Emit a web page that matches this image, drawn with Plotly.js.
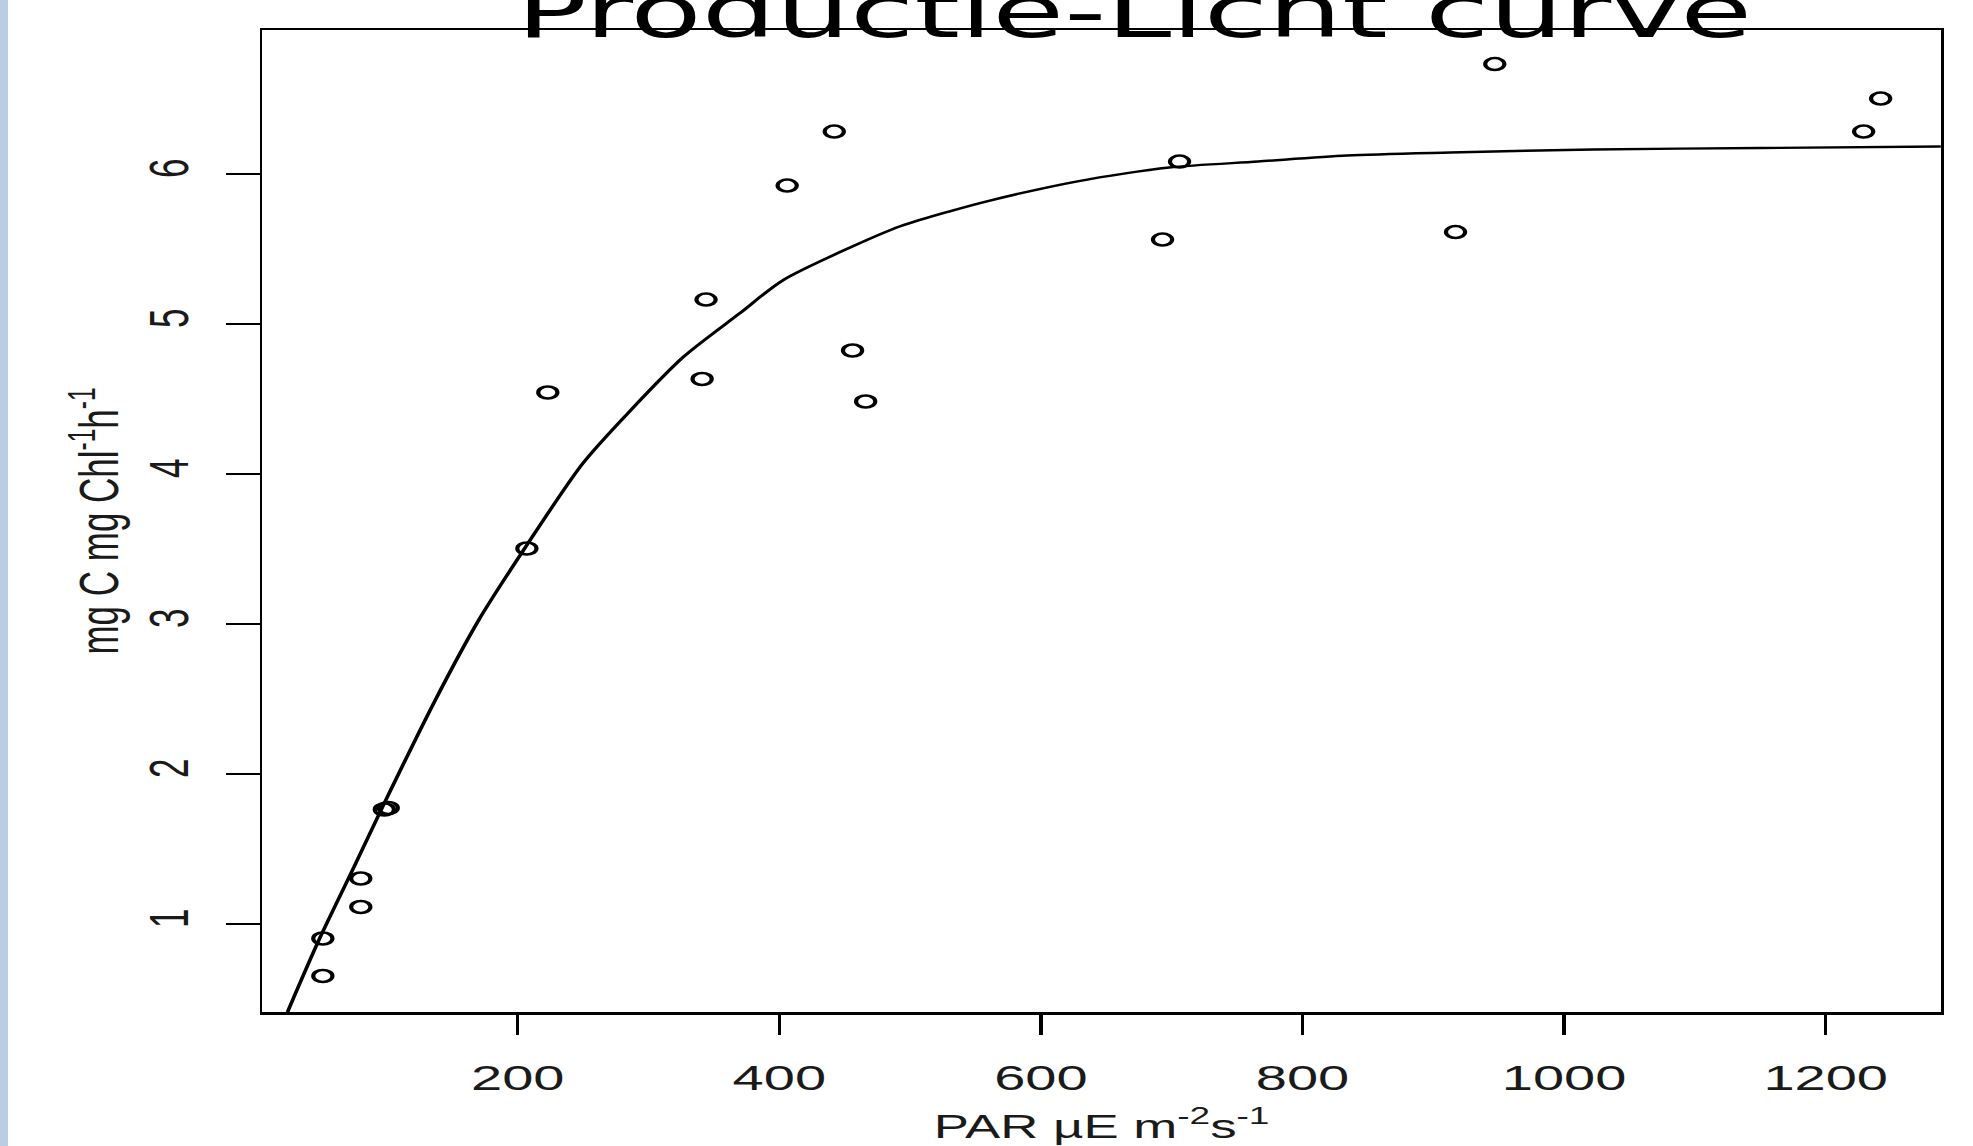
<!DOCTYPE html>
<html>
<head>
<meta charset="utf-8">
<script src="https://cdn.plot.ly/plotly-3.0.1.min.js"></script>
<style>
  html, body { margin: 0; padding: 0; background: #ffffff; overflow: hidden; }
  #wrap { position: relative; width: 1973px; height: 1146px; overflow: hidden; background: #ffffff; }
  #plot { position: absolute; left: 0; top: 0; width: 1233px; height: 1146px; transform: scaleX(1.6); transform-origin: 0 0; }
</style>
</head>
<body>
<div id="wrap"><div id="plot"></div></div>
<script>
// Observations: PAR (µE m-2 s-1) and production (mg C mg Chl-1 h-1)
const parValues  = [51, 51, 80, 80, 98, 101, 207, 223, 341, 344, 406, 442, 456, 466, 693, 706, 917, 947, 1229, 1242];
const prodValues = [0.65, 0.90, 1.11, 1.30, 1.76, 1.77, 3.50, 4.54, 4.63, 5.16, 5.92, 6.28, 4.82, 4.48, 5.56, 6.08, 5.61, 6.73, 6.28, 6.50];

// Fitted curve
const curvePar  = [24, 48, 75, 99, 137, 170, 206, 250, 284, 327, 370, 403, 455, 493, 531, 561, 629, 698, 766, 834, 913, 1022, 1150, 1290];
const curveProd = [0.41, 0.89, 1.38, 1.82, 2.49, 3.02, 3.51, 4.07, 4.40, 4.78, 5.07, 5.29, 5.51, 5.65, 5.75, 5.82, 5.95, 6.04, 6.08, 6.12, 6.14, 6.16, 6.17, 6.18];

const xTicks = [200, 400, 600, 800, 1000, 1200];
const yTicks = [1, 2, 3, 4, 5, 6];

const titleText = "Productie-Licht curve";
const xTitle = "PAR µE m<sup>-2</sup>s<sup>-1</sup>";
const yTitle = "mg C mg Chl<sup>-1</sup>h<sup>-1</sup>";

const W = 1233, H = 1146, ML = 164, MR = 20, MT = 30, MB = 134;
const plotW = W - ML - MR;

const traces = [
  {
    x: curvePar, y: curveProd, type: "scatter", mode: "lines",
    line: { color: "#000000", width: 2.4, shape: "spline", smoothing: 0.8 }, hoverinfo: "skip"
  },
  {
    x: parValues, y: prodValues, type: "scatter", mode: "markers",
    marker: { symbol: "circle-open", size: 12, color: "#000000", line: { color: "#000000", width: 2.6 } }
  }
];

const axisFont = { family: "Liberation Sans, Arial, sans-serif", size: 35, color: "#1a1a1a" };

const layout = {
  width: W, height: H,
  margin: { l: ML, r: MR, t: MT, b: MB, pad: 0 },
  paper_bgcolor: "#ffffff", plot_bgcolor: "#ffffff",
  showlegend: false,
  title: {
    text: titleText,
    font: { family: "DejaVu Sans, Verdana, sans-serif", size: 73, color: "#000000" },
    xref: "container", yref: "container", x: 0.575, xanchor: "center", y: 0.968, yanchor: "bottom"
  },
  xaxis: {
    range: [4.8, 1288], tickmode: "array", tickvals: xTicks, ticktext: xTicks.map(String),
    ticks: "outside", ticklen: 20, tickwidth: 2, tickcolor: "#000000",
    showline: true, linewidth: 2.5, linecolor: "#000000", mirror: true,
    showgrid: false, zeroline: false, tickfont: axisFont, ticklabelstandoff: 14,
    title: { text: xTitle, font: { family: "Liberation Sans, Arial, sans-serif", size: 33, color: "#1a1a1a" }, standoff: 19 }
  },
  yaxis: {
    range: [0.41, 6.957], tickmode: "array", tickvals: yTicks, ticktext: yTicks.map(String),
    ticks: "outside", ticklen: 21, tickwidth: 2, tickcolor: "#000000", tickangle: -90,
    showline: true, linewidth: 1.8, linecolor: "#000000", mirror: true,
    showgrid: false, zeroline: false, tickfont: axisFont, ticklabelstandoff: 10,
    title: { text: yTitle, font: { family: "Liberation Sans, Arial, sans-serif", size: 35, color: "#1a1a1a" }, standoff: 0 }
  },
  shapes: [
    { type: "rect", xref: "paper", yref: "paper", x0: -ML / plotW, x1: (8 / 1.6 - ML) / plotW, y0: -MB / (H - MT - MB), y1: 1 + MT / (H - MT - MB),
      fillcolor: "#bccde3", line: { width: 0 }, layer: "below" }
  ]
};

Plotly.newPlot("plot", traces, layout, { staticPlot: true, displayModeBar: false });
</script>
</body>
</html>
